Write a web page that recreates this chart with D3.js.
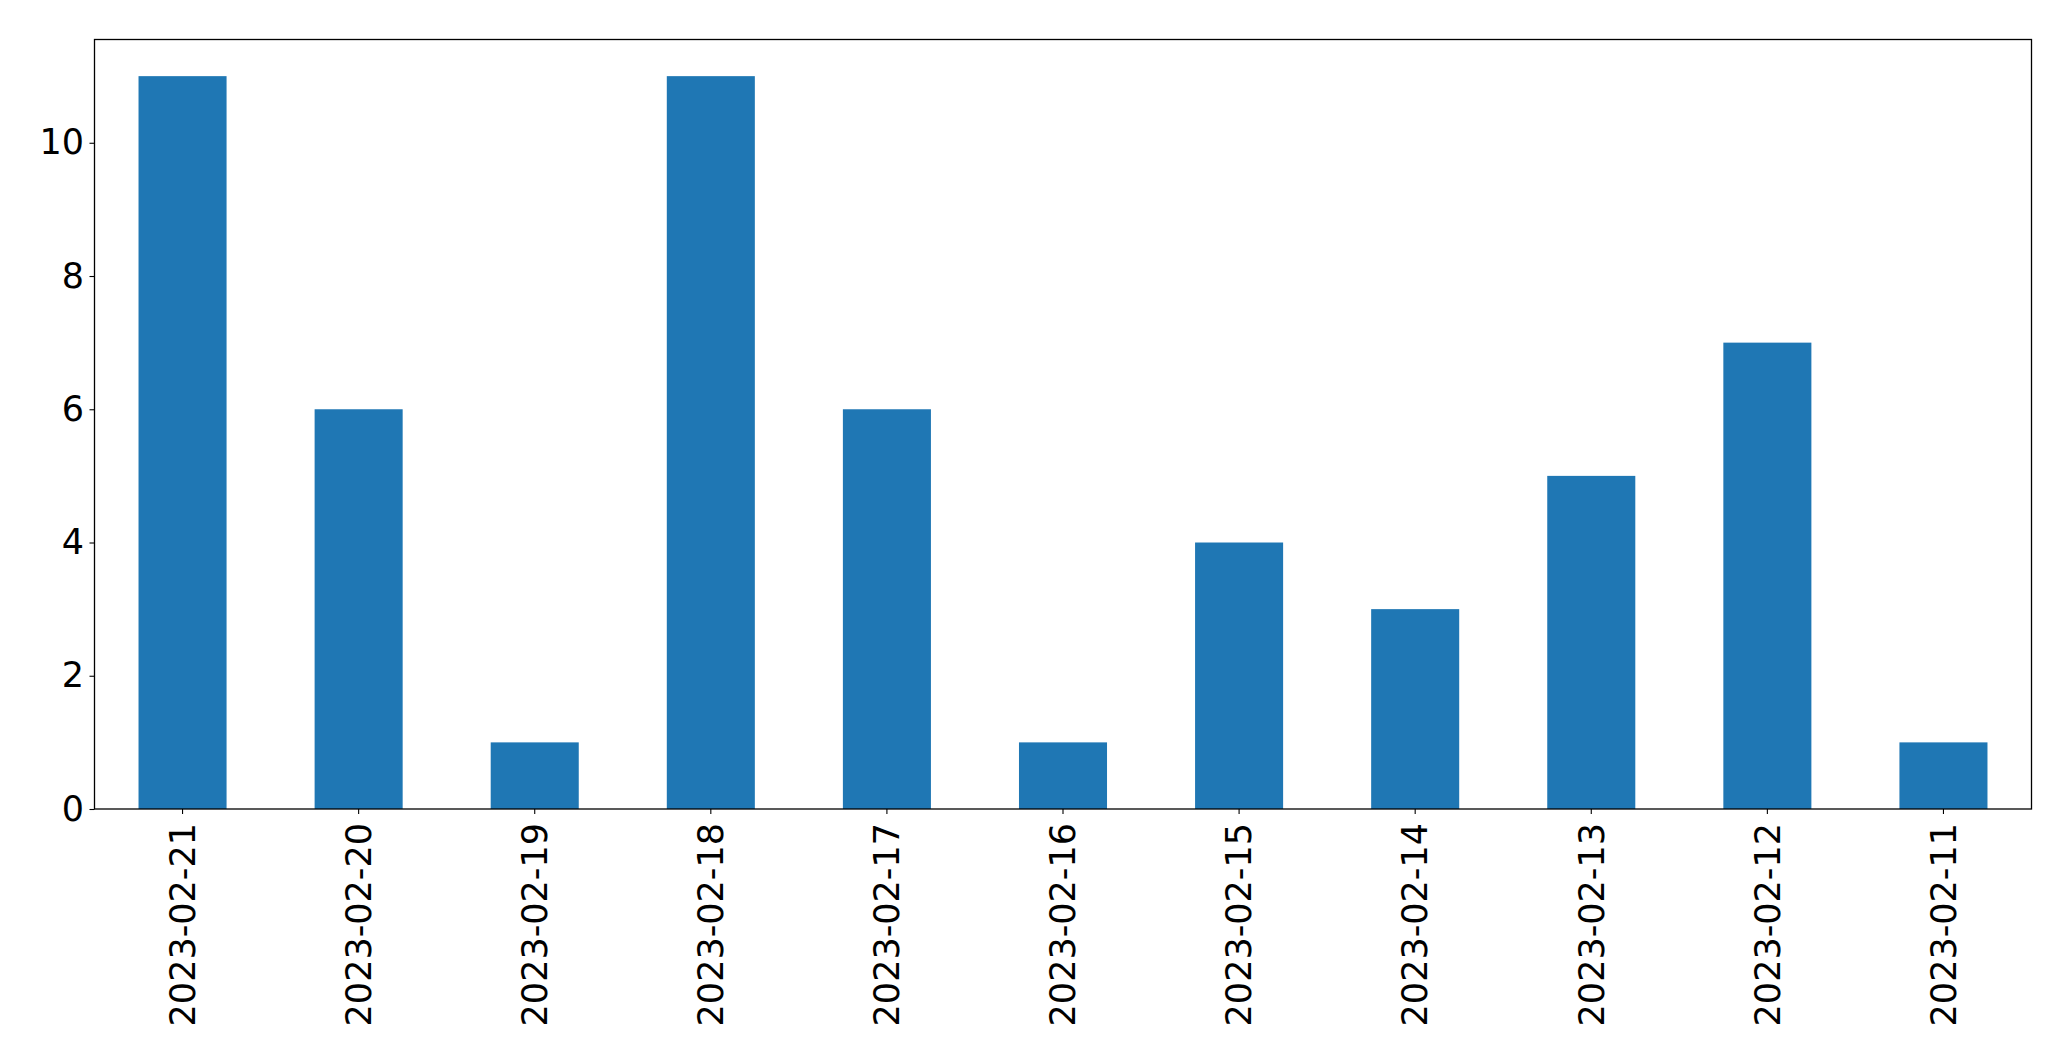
<!DOCTYPE html>
<html><head><meta charset="utf-8">
<script src="https://cdn.jsdelivr.net/npm/d3@7"></script>
<style>body{margin:0;background:#fff}svg{display:block}text{font-family:"DejaVu Sans",sans-serif}</style>
</head><body><svg id="c" width="2071" height="1061"></svg>
<script>
const categories = ["2023-02-21","2023-02-20","2023-02-19","2023-02-18","2023-02-17","2023-02-16","2023-02-15","2023-02-14","2023-02-13","2023-02-12","2023-02-11"];
const values = [11,6,1,11,6,1,4,3,5,7,1];
const yTicks = [0,2,4,6,8,10];

const L=94.5,R=2031.5,T=39.5,B=809;
const svg=d3.select("#c");
const x=d3.scaleBand().domain(categories).range([L,R]).paddingInner(0.5).paddingOuter(0.25);
const y=d3.scaleLinear().domain([0,d3.max(values)*1.05]).range([B,T]);

svg.append("g").selectAll("rect").data(values).join("rect")
 .attr("x",(d,i)=>x(categories[i])).attr("width",x.bandwidth())
 .attr("y",d=>y(d)).attr("height",d=>B-y(d)).attr("fill","#1f77b4");

const ya=svg.append("g").attr("transform",`translate(${L},0)`)
 .call(d3.axisLeft(y).tickValues(yTicks).tickSize(5).tickPadding(5.5).tickFormat(d3.format("d")));
ya.select(".domain").remove();
ya.selectAll("text").attr("font-size",35).attr("fill","#000").attr("font-family","DejaVu Sans");
ya.selectAll("line").attr("stroke","#000").attr("stroke-width",1.1);

const xa=svg.append("g").attr("transform",`translate(0,${B})`)
 .call(d3.axisBottom(x).tickSize(5).tickPadding(0));
xa.select(".domain").remove();
xa.selectAll("line").attr("stroke","#000").attr("stroke-width",1.1);
xa.selectAll("text").attr("font-size",35).attr("fill","#000").attr("font-family","DejaVu Sans")
 .attr("text-anchor","end").attr("transform","rotate(-90)").attr("x",-14).attr("y",0).attr("dy","0.35em");

svg.append("rect").attr("x",L).attr("y",T).attr("width",R-L).attr("height",B-T)
 .attr("fill","none").attr("stroke","#000").attr("stroke-width",1.3);
</script></body></html>
